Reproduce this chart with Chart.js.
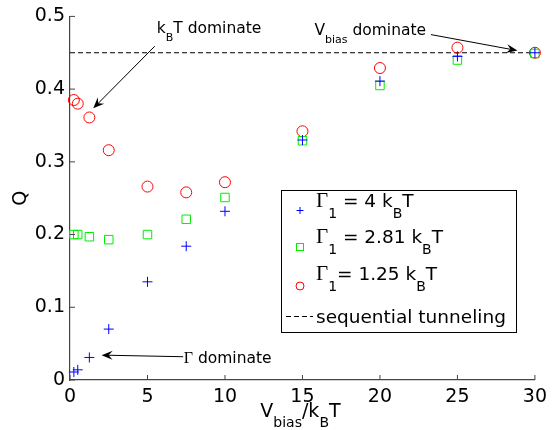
<!DOCTYPE html>
<html>
<head>
<meta charset="utf-8">
<script src="https://cdn.jsdelivr.net/npm/chart.js@4.4.1/dist/chart.umd.min.js"></script>
<style>body{margin:0;background:#fff}</style>
</head>
<body>
<canvas id="qchart" width="553" height="430"></canvas>
<script>
// Q vs Vbias/kBT, three coupling strengths
const vb = [0.25,0.5,1.25,2.5,5,7.5,10,15,20,25,30];
const q4 = [0.011,0.014,0.031,0.070,0.135,0.184,0.232,0.330,0.411,0.445,0.450];
const q281 = [0.200,0.200,0.197,0.193,0.200,0.221,0.251,0.329,0.405,0.440,0.449];
const q125 = [0.385,0.380,0.361,0.316,0.266,0.258,0.272,0.342,0.429,0.457,0.450];
const seqX = [0,30];
const seqQ = [0.45,0.45];
const xTicks = [0,5,10,15,20,25,30];
const yTicks = [0,0.1,0.2,0.3,0.4,0.5];

const F = '"DejaVu Sans"';
const SER = '"Liberation Serif"';

const pts = (xs,ys)=>xs.map((x,i)=>({x:x,y:ys[i]}));

// text with subscripts: parts = [text, size, dy, family]
function rich(ctx,parts,x,y,align){
    let w=0;
    parts.forEach(p=>{ctx.font=p[1]+'px '+(p[3]||F); w+=ctx.measureText(p[0]).width;});
    let cx = align==='center' ? x-w/2 : x;
    parts.forEach(p=>{
        ctx.font=p[1]+'px '+(p[3]||F);
        ctx.fillText(p[0],cx,y+(p[2]||0));
        cx+=ctx.measureText(p[0]).width;
    });
}
function arrow(ctx,x1,y1,x2,y2){
    const a=Math.atan2(y2-y1,x2-x1);
    ctx.beginPath(); ctx.moveTo(x1,y1); ctx.lineTo(x2-6*Math.cos(a),y2-6*Math.sin(a)); ctx.stroke();
    ctx.save(); ctx.translate(x2,y2); ctx.rotate(a);
    ctx.beginPath(); ctx.moveTo(0,0); ctx.lineTo(-11,-4.5); ctx.lineTo(-7,0); ctx.lineTo(-11,4.5); ctx.closePath(); ctx.fill();
    ctx.restore();
}

const extras = {
    id:'extras',
    afterDraw(chart){
        const ctx=chart.ctx, xs=chart.scales.x, ys=chart.scales.y, a=chart.chartArea;
        const px=v=>xs.getPixelForValue(v), py=v=>ys.getPixelForValue(v);
        ctx.save();
        // inward ticks
        ctx.strokeStyle='#444'; ctx.lineWidth=1;
        xTicks.forEach(v=>{ctx.beginPath(); ctx.moveTo(px(v),a.bottom); ctx.lineTo(px(v),a.bottom-5); ctx.stroke();});
        yTicks.forEach(v=>{ctx.beginPath(); ctx.moveTo(a.left,py(v)); ctx.lineTo(a.left+5,py(v)); ctx.stroke();});
        ctx.fillStyle='#000'; ctx.strokeStyle='#000'; ctx.textBaseline='alphabetic'; ctx.textAlign='left';
        // x title
        rich(ctx,[['V',19],['bias',14,10],['/k',19],['B',14,10],['T',19]],(a.left+a.right)/2-2,417,'center');
        // annotations
        rich(ctx,[['k',15.5],['B',11,8],['T dominate',15.5]],px(5.6),py(0.4774));
        arrow(ctx,px(5.47),py(0.459),px(1.5),py(0.3736));
        rich(ctx,[['V',15.5],['bias',11,8],[' dominate',15.5]],px(15.77),py(0.475));
        arrow(ctx,px(23.29),py(0.475),px(28.87),py(0.453));
        rich(ctx,[['\u0393',16,0,SER],[' dominate',15.5]],px(7.34),py(0.0229));
        arrow(ctx,px(7.3),py(0.032),px(2.04),py(0.0342));
        // legend
        const lx=281, ly=190, lw=235, lh=142;
        ctx.fillStyle='#fff'; ctx.fillRect(lx,ly,lw,lh);
        ctx.lineWidth=1; ctx.strokeStyle='#000'; ctx.strokeRect(lx+0.5,ly+0.5,lw,lh);
        ctx.fillStyle='#000';
        const tx=316;
        rich(ctx,[['\u0393',21,0,SER],['1',14,10.5],[' = 4 k',18.5],['B',14,10.5],['T',18.5]],tx,207);
        rich(ctx,[['\u0393',21,0,SER],['1',14,10.5],[' = 2.81 k',18.5],['B',14,10.5],['T',18.5]],tx,243);
        rich(ctx,[['\u0393',21,0,SER],['1',14,10.5],['= 1.25 k',18.5],['B',14,10.5],['T',18.5]],tx,280);
        ctx.font='18.5px '+F; ctx.fillText('sequential tunneling',tx,323);
        // legend markers
        ctx.lineWidth=1;
        ctx.strokeStyle='#0000ff'; ctx.beginPath();
        ctx.moveTo(296.5,210.5); ctx.lineTo(303.5,210.5); ctx.moveTo(300,207); ctx.lineTo(300,214); ctx.stroke();
        ctx.strokeStyle='#00ee00'; ctx.strokeRect(296.5,243.5,7,7);
        ctx.strokeStyle='#ff0000'; ctx.beginPath(); ctx.arc(300,286,4,0,Math.PI*2); ctx.stroke();
        ctx.strokeStyle='#000'; ctx.setLineDash([5,3]); ctx.beginPath();
        ctx.moveTo(286,316.5); ctx.lineTo(313,316.5); ctx.stroke();
        ctx.restore();
    }
};

new Chart(document.getElementById('qchart'),{
    type:'scatter',
    data:{
        datasets:[
            {data:pts(vb,q4),pointStyle:'cross',pointRadius:5,borderColor:'#0000ff',pointBorderWidth:1,clip:false},
            {data:pts(vb,q281),pointStyle:'rect',pointRadius:6,borderColor:'#00ee00',backgroundColor:'rgba(0,0,0,0)',pointBorderWidth:1,clip:false},
            {data:pts(vb,q125),pointStyle:'circle',pointRadius:5.5,borderColor:'#ff0000',backgroundColor:'rgba(0,0,0,0)',pointBorderWidth:1,clip:false},
            {type:'line',data:pts(seqX,seqQ),borderColor:'#000',borderWidth:1,borderDash:[5,3],pointRadius:0,showLine:true,clip:false}
        ]
    },
    options:{
        responsive:false,
        animation:false,
        layout:{padding:{top:15,right:17,left:0,bottom:0}},
        plugins:{legend:{display:false},tooltip:{enabled:false}},
        scales:{
            x:{
                type:'linear',min:0,max:30,
                afterBuildTicks:s=>{s.ticks=xTicks.map(v=>({value:v}));},
                afterFit:s=>{s.height=50;},
                grid:{drawOnChartArea:false,drawTicks:false},
                border:{display:true,color:'#444',width:1.2},
                ticks:{color:'#000',padding:6,maxRotation:0,font:{family:'DejaVu Sans',size:19}},
            },
            y:{
                type:'linear',min:0,max:0.5,
                afterBuildTicks:s=>{s.ticks=yTicks.map(v=>({value:v}));},
                afterFit:s=>{s.width=70;},
                grid:{drawOnChartArea:false,drawTicks:false},
                border:{display:true,color:'#444',width:1.2},
                ticks:{color:'#000',padding:5,font:{family:'DejaVu Sans',size:19},callback:v=>String(+v.toFixed(1))},
                title:{display:true,text:'Q',color:'#000',padding:{top:10,bottom:0},font:{family:'DejaVu Sans',size:19}}
            }
        }
    },
    plugins:[extras]
});
</script>
</body>
</html>
